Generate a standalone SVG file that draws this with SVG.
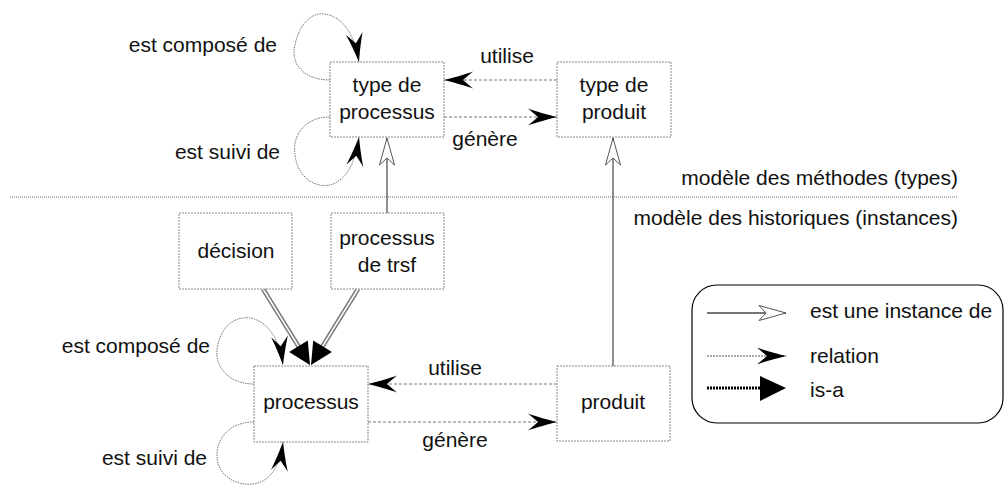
<svg xmlns="http://www.w3.org/2000/svg" width="1005" height="486" viewBox="0 0 1005 486">
<style>
text{font-family:"Liberation Sans",Arial,sans-serif;font-size:21px;fill:#111}
.box{fill:#fff;stroke:#888;stroke-width:1;stroke-dasharray:2,1}
.rel{fill:none;stroke:#777;stroke-width:1;stroke-dasharray:3,2;marker-end:url(#relHead)}
.loop{fill:none;stroke:#666;stroke-width:0.9;stroke-dasharray:1.5,1;marker-end:url(#relHead)}
.inst{fill:none;stroke:#444;stroke-width:1.2;marker-end:url(#instHead)}
.isaO{fill:none;stroke:#777;stroke-width:4.5}
.isaI{fill:none;stroke:#fff;stroke-width:1.5;marker-end:url(#isaHead)}
.mid{text-anchor:middle}
.end{text-anchor:end}
</style>
<defs>
<marker id="relHead" markerUnits="userSpaceOnUse" markerWidth="32" markerHeight="20" refX="29" refY="8.5" orient="auto" overflow="visible">
<path d="M29,8.5 C21,6.5 8,3 0,0 L10,8.5 L0,17 C8,14 21,10.5 29,8.5 Z" fill="#000"/>
</marker>
<marker id="instHead" markerUnits="userSpaceOnUse" markerWidth="30" markerHeight="18" refX="27" refY="7.5" orient="auto" overflow="visible">
<path d="M27,7.5 L0,0 L7,7.5 L0,15 Z" fill="#fff" stroke="#555" stroke-width="1"/>
</marker>
<marker id="isaHead" markerUnits="userSpaceOnUse" markerWidth="24" markerHeight="24" refX="22" refY="11" orient="auto" overflow="visible">
<path d="M0,0 L22,11 L0,22 Z" fill="#000"/>
</marker>
</defs>

<g id="separator">
<line x1="10" y1="197" x2="958" y2="197" stroke="#666" stroke-width="1" stroke-dasharray="1,1"/>
<text class="end" x="958" y="185">modèle des méthodes (types)</text>
<text class="end" x="958" y="225">modèle des historiques (instances)</text>
</g>

<g id="connectors">
<line class="rel" x1="557" y1="80" x2="444" y2="80"/>
<line class="rel" x1="444" y1="117" x2="557" y2="117"/>
<path class="loop" d="M330,80 C305,80 290,65 295,45 C300,20 315,12 325,14 C342,17 354,32 359,62"/>
<path class="loop" d="M330,117 C305,117 292,135 295,155 C298,178 315,188 330,185 C345,181 355,165 359,137"/>
<line class="inst" x1="387" y1="213" x2="387" y2="138"/>
<line class="inst" x1="613" y1="366" x2="613" y2="138"/>
<line class="rel" x1="557" y1="384" x2="368" y2="384"/>
<line class="rel" x1="368" y1="422" x2="557" y2="422"/>
<path class="loop" d="M254,384 C228,384 215,366 217,350 C220,326 235,316 250,318 C268,321 280,340 283,365"/>
<path class="loop" d="M254,422 C228,422 216,440 217,457 C218,475 235,486 253,484 C270,482 280,466 283,442"/>
<line class="isaO" x1="263" y1="289" x2="302" y2="352"/>
<line class="isaI" x1="263" y1="289" x2="310" y2="365"/>
<line class="isaO" x1="358" y1="289" x2="319" y2="352"/>
<line class="isaI" x1="358" y1="289" x2="311" y2="365"/>
</g>

<g id="labels">
<text class="end" x="277" y="52">est composé de</text>
<text class="end" x="280" y="159">est suivi de</text>
<text class="mid" x="507" y="63">utilise</text>
<text class="mid" x="485" y="146">génère</text>
<text class="end" x="210" y="353">est composé de</text>
<text class="end" x="207" y="465">est suivi de</text>
<text class="mid" x="455" y="375">utilise</text>
<text class="mid" x="455" y="447">génère</text>
</g>

<g id="type-processus">
<rect class="box" x="330" y="62" width="114" height="75"/>
<text class="mid" x="387" y="92">type de</text>
<text class="mid" x="387" y="119">processus</text>
</g>
<g id="type-produit">
<rect class="box" x="557" y="62" width="114" height="75"/>
<text class="mid" x="614" y="92">type de</text>
<text class="mid" x="614" y="119">produit</text>
</g>
<g id="decision">
<rect class="box" x="179" y="213" width="113" height="76"/>
<text class="mid" x="236" y="258">décision</text>
</g>
<g id="processus-trsf">
<rect class="box" x="331" y="213" width="113" height="76"/>
<text class="mid" x="387" y="245">processus</text>
<text class="mid" x="387" y="272">de trsf</text>
</g>
<g id="processus">
<rect class="box" x="254" y="366" width="114" height="76"/>
<text class="mid" x="311" y="409">processus</text>
</g>
<g id="produit">
<rect class="box" x="557" y="366" width="113" height="75"/>
<text class="mid" x="613" y="409">produit</text>
</g>

<g id="legend">
<rect x="692" y="285" width="311" height="138" rx="25" ry="25" fill="none" stroke="#000" stroke-width="1.2"/>
<line x1="707" y1="313" x2="786" y2="313" stroke="#777" stroke-width="2" marker-end="url(#instHead)"/>
<text x="810" y="318">est une instance de</text>
<line x1="707" y1="356" x2="786" y2="356" stroke="#555" stroke-width="1" stroke-dasharray="2,1" marker-end="url(#relHead)"/>
<text x="810" y="363">relation</text>
<line x1="707" y1="388" x2="770" y2="388" stroke="#000" stroke-width="3" stroke-dasharray="2,1"/>
<path d="M760,376 L786,388 L760,401 Z" fill="#000"/>
<text x="810" y="397">is-a</text>
</g>
</svg>
